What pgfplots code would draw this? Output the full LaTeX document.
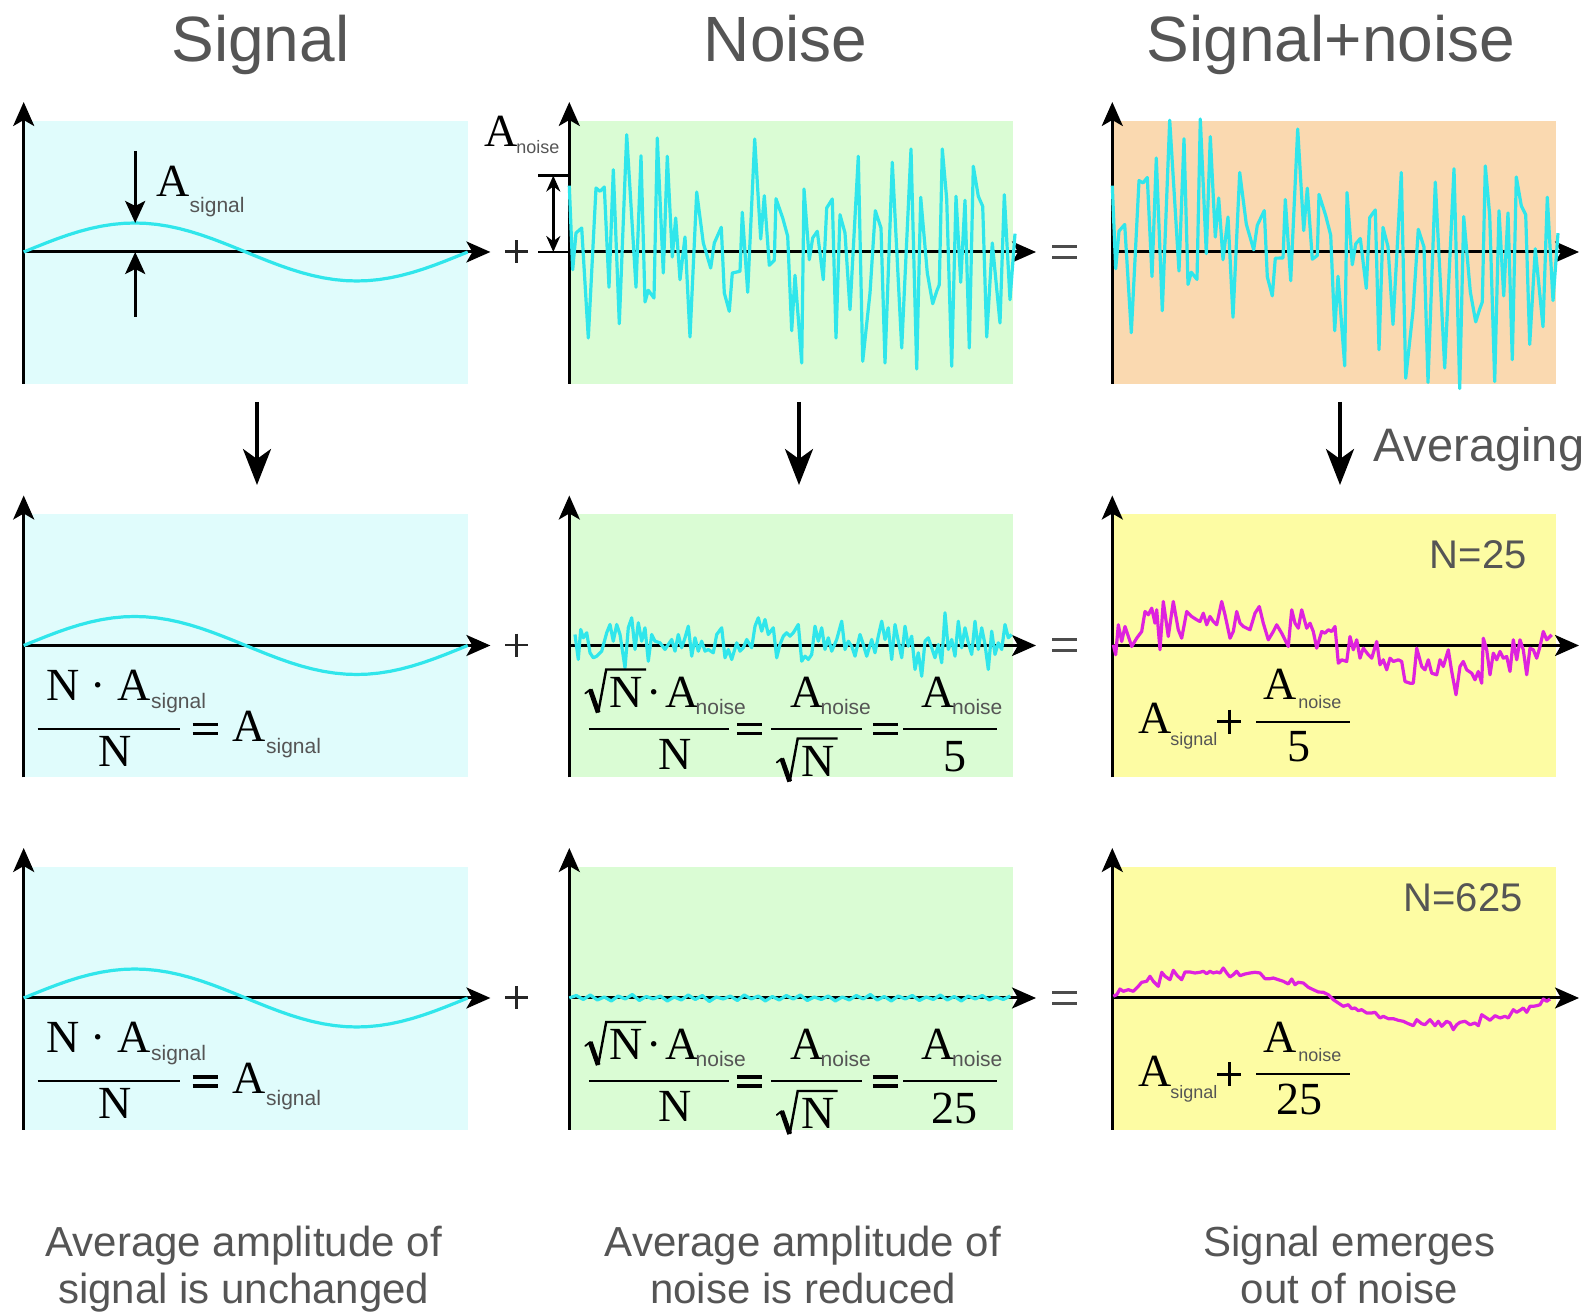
\documentclass[border=0pt]{standalone}
\usepackage{pgfplots}
\pgfplotsset{compat=1.18}
\usetikzlibrary{arrows.meta}
\usepackage{fontspec}
\setmainfont{Liberation Sans}
\newfontfamily\tms{Liberation Serif}
\definecolor{bgC}{RGB}{224,252,252}
\definecolor{bgG}{RGB}{218,252,212}
\definecolor{bgP}{RGB}{250,217,176}
\definecolor{bgY}{RGB}{253,252,163}
\definecolor{lnC}{RGB}{48,230,235}
\definecolor{lnM}{RGB}{222,34,222}
\definecolor{txG}{RGB}{85,85,85}
\tikzset{
 axl/.style={line width=1.5pt, -{Stealth[length=12pt,width=10.5pt,inset=3pt]}},
 tm/.style={font=\tms\fontsize{23}{23}\selectfont, inner sep=0pt},
 sb/.style={font=\fontsize{9}{9}\selectfont, inner sep=0pt, text=txG},
 sbl/.style={font=\fontsize{10.5}{10.5}\selectfont, inner sep=0pt, text=txG},
 fb/.style={line width=1pt},
 eqb/.style={line width=1.9pt},
 sig/.style={draw=lnC, line width=1.6pt, line join=round, no markers},
 mag/.style={draw=lnM, line width=1.6pt, line join=round, no markers},
}
\pgfplotsset{panel/.style={scale only axis, width=233.35pt, height=141pt, xmin=0, xmax=466.7, ymin=-132, ymax=150, axis lines=none, clip=false, anchor=south west}}
\newcommand{\panelbg}[1]{\fill[#1] (0,-132) rectangle (444,131); \draw[axl] (0,-132) -- (0,150); \draw[axl] (0,0) -- (466.7,0);}
\newcommand{\eqsign}[2]{\draw[eqb] ({#1-12.5},{#2+4.5}) -- ({#1+12.5},{#2+4.5}); \draw[eqb] ({#1-12.5},{#2-4.5}) -- ({#1+12.5},{#2-4.5});}
\newcommand{\rad}[3]{\draw[line width=0.9pt, line cap=round] ({#1-24},{#2+14}) -- ({#1-19},{#2+18}); \draw[line width=2.4pt] ({#1-19},{#2+18}) -- ({#1-11},{#2-5}); \draw[line width=1.2pt, line join=miter] ({#1-11},{#2-5}) -- ({#1-3},{#2+38}) -- ({#1+#3},{#2+38});}
\newcommand{\sine}{\addplot[sig] coordinates {(0,0)(11.1,4.54)(22.2,8.96)(33.3,13.17)(44.4,17.05)(55.5,20.51)(66.6,23.46)(77.7,25.84)(88.8,27.58)(99.9,28.64)(111,29)(122.1,28.64)(133.2,27.58)(144.3,25.84)(155.4,23.46)(166.5,20.51)(177.6,17.05)(188.7,13.17)(199.8,8.96)(210.9,4.54)(222,0)(233.1,-4.54)(244.2,-8.96)(255.3,-13.17)(266.4,-17.05)(277.5,-20.51)(288.6,-23.46)(299.7,-25.84)(310.8,-27.58)(321.9,-28.64)(333,-29)(344.1,-28.64)(355.2,-27.58)(366.3,-25.84)(377.4,-23.46)(388.5,-20.51)(399.6,-17.05)(410.7,-13.17)(421.8,-8.96)(432.9,-4.54)(444,0)};}
\newcommand{\sigformula}{
 \node[tm,anchor=base west] at (22,-55) {N · A};
 \node[sbl,anchor=base west] at (127,-63) {signal};
 \draw[fb] (14,-83.5) -- (156,-83.5);
 \node[tm,anchor=base] at (91,-121) {N};
 \eqsign{181.5}{-83.5}
 \node[tm,anchor=base west] at (208,-96) {A};
 \node[sbl,anchor=base west] at (242,-108) {signal};
}
\newcommand{\noiseformula}[1]{
 \rad{39.9}{-62}{37}
 \node[tm,anchor=base west] at (39.9,-62) {N};
 \node[tm,anchor=base] at (85,-62) {·};
 \node[tm,anchor=base west] at (95.8,-62) {A};
 \node[sbl,anchor=base west] at (126,-69) {noise};
 \draw[fb] (19.6,-83.5) -- (159.8,-83.5);
 \node[tm,anchor=base] at (106,-124) {N};
 \eqsign{180}{-83.5}
 \node[tm,anchor=base west] at (220.7,-62) {A};
 \node[sbl,anchor=base west] at (251,-69) {noise};
 \draw[fb] (202,-83.5) -- (293,-83.5);
 \rad{231.4}{-131}{37}
 \node[tm,anchor=base west] at (231.4,-131) {N};
 \eqsign{316}{-83.5}
 \node[tm,anchor=base west] at (352,-62) {A};
 \node[sbl,anchor=base west] at (382.5,-69) {noise};
 \draw[fb] (334,-83.5) -- (428,-83.5);
 \node[tm,anchor=base] at (385.2,-126) {#1};
}
\newcommand{\sumformula}[1]{
 \node[tm,anchor=base west] at (25.7,-88.5) {A};
 \node[sb,anchor=base west] at (57.7,-100.5) {signal};
 \draw[line width=1.5pt] (105,-76.2) -- (129,-76.2);
 \draw[line width=1.5pt] (117,-64.2) -- (117,-88.2);
 \node[tm,anchor=base west] at (150.7,-54.5) {A};
 \node[sb,anchor=base west] at (185.7,-63.5) {noise};
 \draw[fb] (143.7,-76.5) -- (237.7,-76.5);
 \node[tm,anchor=base] at (186.7,-116.5) {#1};
}
\begin{document}
\begin{tikzpicture}
\path[use as bounding box] (0,0) rectangle (796pt,656.5pt);
% ---------- row 1
\begin{axis}[panel, at={(11.85pt,464.5pt)}]
\panelbg{bgC}
\sine
\draw[line width=1.5pt, -{Stealth[length=11pt,width=10pt,inset=2.5pt]}] (111.5,101) -- (111.5,29);
\draw[line width=1.5pt, -{Stealth[length=11pt,width=10pt,inset=2.5pt]}] (111.5,-65) -- (111.5,0);
\node[tm,anchor=base west] at (132.8,55.3) {A};
\node[sbl,anchor=base west] at (165.6,39) {signal};
\end{axis}
\begin{axis}[panel, at={(284.65pt,464.5pt)}]
\panelbg{bgG}
\addplot[sig] coordinates {(0,66.3)(3.4,-17.7)(6.7,19)(12.4,24)(19,-86)(26.7,64)(30.7,60.7)(35,65)(39.7,-35.3)(44,82.3)(50,-71.7)(57.4,117.3)(66.7,-35.3)(71.7,96.3)(75.7,-50)(79,-38.3)(84.7,-46)(88,114)(94,-21)(98,95.7)(103,-5)(106.4,34)(110.7,-27.7)(115.7,15)(120.7,-85)(127.4,60)(134,9)(141.4,-16)(145,9)(152,24.7)(155,-41)(160,-59.3)(163,-21)(170.7,-19.3)(173,39.7)(178.4,-40.3)(185.4,113)(191.4,13)(195,56.3)(200,-13.3)(205,-8.3)(206.7,53.3)(213.4,34)(218.4,15.7)(222.4,-78.7)(225.7,-23.3)(232.4,-111)(234.7,63)(240,-7.7)(243.4,14)(248,20.7)(254,-27.7)(257.4,44)(263,53)(266.7,-86)(270.7,37.3)(275.7,19)(280.7,-57.7)(289,95.7)(293.4,-109.3)(300.7,-41)(306,41.3)(311.7,24)(315.7,-111)(323,89.7)(332.4,-96)(341.7,103)(347.4,-117)(351.4,54.7)(358,-21)(363.4,-51.7)(367.4,-39.3)(370,-32.7)(373,103)(377.4,53)(382.4,-114.3)(386.7,55.7)(391.4,-30.3)(395.7,51.7)(400,-96)(404,85.7)(409,55.7)(413.4,45.7)(417.4,-85)(423,9)(430.7,-71)(435,57.3)(440.7,-47.7)(445.7,18.3)};
\draw[line width=1.2pt] (-31,76.4) -- (0,76.4);
\draw[line width=1.2pt] (-31,0) -- (0,0);
\draw[line width=1.2pt, {Stealth[length=8pt,width=7pt]}-{Stealth[length=8pt,width=7pt]}] (-16,76.4) -- (-16,0);
\node[tm,anchor=base west] at (-85.3,105) {A};
\node[sb,anchor=base west] at (-53.3,98) {noise};
\end{axis}
\begin{axis}[panel, at={(556.15pt,464.5pt)}]
\panelbg{bgP}
\addplot[sig] coordinates {(0,66.3)(3.4,-16.7)(6.7,20.9)(12.4,27.5)(19,-80.7)(26.7,71.4)(30.7,69.1)(35,74.5)(39.7,-24.6)(44,94)(50,-58.7)(57.4,131.8)(66.7,-19.1)(71.7,113.3)(75.7,-32.4)(79,-20.3)(84.7,-27.4)(88,133)(94,-1.6)(98,115.4)(103,14.9)(106.4,54)(110.7,-7.7)(115.7,35)(120.7,-65.2)(127.4,79.5)(134,27.9)(141.4,2.2)(145,26.7)(152,41.4)(155,-24.8)(160,-43.9)(163,-6.2)(170.7,-6)(173,52.5)(178.4,-28.7)(185.4,122.9)(191.4,21.4)(195,63.8)(200,-7.2)(205,-3.5)(206.7,57.6)(213.4,36.4)(218.4,16.7)(222.4,-78.8)(225.7,-24.3)(232.4,-113.9)(234.7,59.4)(240,-12.7)(243.4,8)(248,13.5)(254,-36.4)(257.4,34.4)(263,42)(266.7,-97.8)(270.7,24.6)(275.7,5.2)(280.7,-72.5)(289,79.5)(293.4,-126.2)(300.7,-58.9)(306,22.7)(311.7,4.9)(315.7,-130.4)(323,69.9)(332.4,-116)(341.7,83.2)(347.4,-136.6)(351.4,35.4)(358,-39.8)(363.4,-69.9)(367.4,-57)(370,-50)(373,86.1)(377.4,36.8)(382.4,-129.6)(386.7,41.2)(391.4,-43.9)(395.7,39.1)(400,-107.7)(404,75)(409,46.2)(413.4,37.3)(417.4,-92.4)(423,3.2)(430.7,-74.7)(435,54.8)(440.7,-48.6)(445.7,18.8)};
\end{axis}
% ---------- row 2
\begin{axis}[panel, at={(11.85pt,267.75pt)}]
\panelbg{bgC}
\sine
\sigformula
\end{axis}
\begin{axis}[panel, at={(284.65pt,267.75pt)}]
\panelbg{bgG}
\addplot[sig] coordinates {(5.7,11)(9,-14)(11.4,16)(14,7.7)(17.4,12.7)(20.7,-7.3)(24,-12.3)(27.4,-10.7)(32.4,-5.7)(37.4,12.7)(40.7,21)(44,4.3)(47.4,21)(50.7,11)(55.7,-22.3)(59,17.7)(62.4,27.7)(65.7,-4)(69,22.7)(72.4,4.3)(75.7,17.7)(79,-15.7)(82.4,11)(85.7,4.3)(90.7,2.7)(95.7,-4)(99,1)(102.4,6)(105.7,-5.7)(109,11)(112.4,-2.3)(115.7,7.7)(119,19.3)(122.4,-10.7)(125.7,7.7)(129,-5.7)(132.4,4.3)(135.7,-5.7)(139,-4)(144,-7.3)(147.4,11)(152.4,17.7)(155.7,-12.3)(159,-4)(162.4,-14)(167.4,2.7)(170.7,-5.7)(174,-2.3)(177.4,6)(182.4,-2.3)(185.7,19.3)(189,27.7)(192.4,14.3)(195.7,26)(199,11)(204,17.7)(207.4,-12.3)(210.7,1)(214,9.3)(217.4,12.7)(220.7,9.3)(224,12.7)(229,21)(232.4,-15.7)(235.7,-10.7)(239,-14)(242.4,-9)(245.7,19.3)(249,4.3)(252.4,17.7)(255.7,-4)(259,7.7)(262.4,-5.7)(267.4,6)(272.4,24.3)(275.7,-4)(279,4.3)(282.4,-0.7)(285.7,-10.7)(290.7,11)(294,1)(297.4,-10.7)(302.4,6)(305.7,-7.3)(309,9.3)(312.4,24.3)(315.7,6)(319,17.7)(322.4,-14)(325.7,21)(329,4.3)(332.4,-12.3)(335.7,19.3)(339,-0.7)(342.4,9.3)(345.7,-24)(349,-7.3)(352.4,-30.7)(355.7,4.3)(359,7.7)(362.4,-2.3)(365.7,-12.3)(369,1)(372.4,-17.3)(375.7,32.7)(379,-4)(382.4,6)(385.7,-10.7)(389,24.3)(392.4,-2.3)(395.7,17.7)(399,2.7)(402.4,-9)(405.7,24.3)(409,-4)(412.4,17.7)(415.7,1)(419,-24)(422.4,14.3)(425.7,-9)(429,2.7)(432.4,-4)(435.7,21)(439,7.7)(442.4,11)};
\noiseformula{5}
\end{axis}
\begin{axis}[panel, at={(556.15pt,267.75pt)}]
\panelbg{bgY}
\addplot[mag] coordinates {(1,0.7)(3.4,-9.3)(6,20.7)(9.4,4)(12.7,19)(19.4,-1)(24.4,7.3)(29.4,14)(32.7,34)(36,30.7)(39.4,37.3)(42.7,22.3)(44.4,35.7)(47.7,-4.3)(51,44)(56,9)(61,44)(66,15.7)(69.4,7.3)(74.4,34)(79.4,29)(84.4,25.7)(87.7,24)(91,32.3)(94.4,20.7)(97.7,29)(101,24)(104.4,20.7)(109.4,44)(112.7,30.7)(117.7,7.3)(121,14)(124.4,34)(127.7,22.3)(131,19)(137.7,15.7)(142.7,32.3)(147,39)(151,22.3)(156,5.7)(161,14)(164.4,20.7)(169.4,12.3)(176,-1)(179.4,35.7)(182.7,22.3)(186,17.3)(189.4,35.7)(194.4,17.3)(197.7,22.3)(201,14)(204.4,-2.7)(209.4,14)(212.7,12.3)(216,15.7)(219.4,14)(222.7,19)(226,-17.7)(229.4,-14.3)(234.4,-16)(237.7,9)(241,-4.3)(244.4,5.7)(247.7,-12.7)(251,-2.7)(256,-9.3)(259.4,-12.7)(264.4,4)(267.7,-19.3)(271,-14.3)(274.4,-24.3)(277.7,-12.7)(281,-16)(286,-14.3)(289.4,-16)(292.7,-36)(297.7,-37.7)(301,-37.7)(304.4,-2.7)(309.4,-21)(312.7,-24.3)(316,-14.3)(319.4,-27.7)(324.4,-29.3)(327.7,-14.3)(331,-21)(336,-4.3)(339.4,-26)(343.7,-49.3)(347.7,-21)(351,-16)(354.4,-24.3)(359.4,-27.7)(362.7,-34.3)(366,-26)(369.4,-37.7)(371,7.3)(374.4,-4.3)(377.7,-29.3)(381,-7.7)(384.4,-14.3)(387.7,-6)(391,-12.7)(394.4,-11)(397.7,-26)(401,5.7)(404.4,-14.3)(407.7,5.7)(411,-4.3)(414.4,-29.3)(417.7,-2.7)(421,-4.3)(424.4,-12.7)(427.7,-1)(431,14)(434.4,5.7)(437.7,9)(439.4,10.7)};
\sumformula{5}
\end{axis}
% ---------- row 3
\begin{axis}[panel, at={(11.85pt,91.5pt)}]
\panelbg{bgC}
\sine
\sigformula
\end{axis}
\begin{axis}[panel, at={(284.65pt,91.5pt)}]
\panelbg{bgG}
\addplot[sig] coordinates {(0,0)(7,2.5)(14,-1.5)(21,3)(28,-2)(35,1)(42,-3)(49,2)(56,-1)(63,3.5)(70,-2.5)(77,1.5)(84,-1)(91,2)(98,-3)(105,1)(112,-2)(119,3)(126,-1.5)(133,2.5)(140,-3.5)(147,1)(154,-1)(161,2)(168,-2.5)(175,3)(182,-1)(189,2)(196,-3)(203,1.5)(210,-2)(217,2.5)(224,-1)(231,3)(238,-2.5)(245,1)(252,-1.5)(259,2)(266,-3)(273,1)(280,-2)(287,2.5)(294,-1)(301,3.5)(308,-2)(315,1.5)(322,-3)(329,2)(336,-1)(343,2.5)(350,-2.5)(357,1)(364,-1.5)(371,3)(378,-2)(385,1.5)(392,-3)(399,2)(406,-1)(413,2.5)(420,-2)(427,1)(434,-1.5)(441,2)};
\noiseformula{25}
\end{axis}
\begin{axis}[panel, at={(556.15pt,91.5pt)}]
\panelbg{bgY}
\addplot[mag] coordinates {(1,1.7)(4.4,3.3)(7.7,9)(11,6.7)(16,8.3)(21,6.7)(26,11.7)(29.4,15.7)(34.4,16.7)(37.7,21.7)(41,16.7)(46,11.7)(49.4,25.7)(52.7,21.7)(57.7,18.3)(61,27.7)(65,22.3)(69.4,18.3)(72.7,26)(77.7,26)(82.7,25)(87.7,25.7)(91,26.7)(94.4,24.3)(97.7,26.7)(101,25)(104.4,26)(107.7,25)(111,30)(114.4,25)(117.7,21)(121,23.3)(124.4,26.7)(127.7,22.3)(132.7,24)(137.7,25)(142.7,25.7)(147.7,25)(152.7,19.3)(157.7,19.3)(161,20)(166,18.3)(171,16.7)(176,14)(179.4,19)(182.7,13.3)(186,15.7)(191,15)(196,10.7)(201,8.3)(206,6)(211,5.7)(216,3.3)(221,-1.7)(226,-5)(231,-8.3)(236,-6.7)(239.4,-10.7)(242.7,-10)(246,-12.7)(249.4,-11.7)(254.4,-15)(259.4,-15)(262.7,-14.3)(267.7,-20)(271,-18.3)(276,-20.7)(281,-20.7)(286,-22.3)(291,-23.3)(296,-25.7)(301,-27.7)(304.4,-21.7)(309.4,-25.7)(312.7,-26.7)(317.7,-21.7)(322.7,-27.7)(326,-23.3)(329.4,-28.3)(334.4,-23.3)(337.7,-25)(341,-31.7)(344.4,-26.7)(347.7,-24.3)(352.7,-23.3)(357.7,-26.7)(362.7,-25)(366,-27.7)(369.4,-16.7)(374.4,-20)(377.7,-22.3)(382.7,-17.7)(387.7,-20)(392.7,-18.3)(396,-20)(401,-11.7)(404.4,-14.3)(407.7,-12.3)(411,-10)(414.4,-14.3)(417.7,-8.3)(421,-8.3)(424.4,-7.7)(427.7,-6.7)(431,-1)(434.4,-3.3)(437.7,-1)};
\sumformula{25}
\end{axis}
% ---------- free annotations (pixel coordinates)
\begin{scope}[x=0.5pt,y=-0.5pt,yshift=656.5pt]
\foreach \cx/\tt in {260.4/Signal, 785.8/Noise, 1331/Signal+noise}
  \node[anchor=base, inner sep=0pt, text=txG, font=\fontsize{32}{32}\selectfont] at (\cx,62) {\tt};
\foreach \cx in {257,799,1340}
  \draw[line width=1.75pt, -{Stealth[length=18pt,width=14pt,inset=5pt]}] (\cx,402) -- (\cx,485);
\node[anchor=base west, inner sep=0pt, text=txG, font=\fontsize{23.5}{23.5}\selectfont] at (1373,461.7) {Averaging};
\node[anchor=base east, inner sep=0pt, text=txG, font=\fontsize{20}{20}\selectfont] at (1527,569) {N=25};
\node[anchor=base east, inner sep=0pt, text=txG, font=\fontsize{20}{20}\selectfont] at (1523,912) {N=625};
\foreach \yy in {251.7,645.2,997.7}{
  \draw[line width=1.3pt, draw=black!85] (505,\yy) -- (528,\yy);
  \draw[line width=1.3pt, draw=black!85] (516.5,\yy-11.5) -- (516.5,\yy+11.5);
  \draw[line width=1.4pt, draw=black!70] (1052,\yy-5.5) -- (1077,\yy-5.5);
  \draw[line width=1.4pt, draw=black!70] (1052,\yy+5.5) -- (1077,\yy+5.5);
}
\foreach \cx/\la/\lb in {243.7/Average amplitude of/signal is unchanged, 803/Average amplitude of/noise is reduced, 1349.4/Signal emerges/out of noise}{
  \node[anchor=base, inner sep=0pt, text=txG, font=\fontsize{21}{21}\selectfont] at (\cx,1257) {\la};
  \node[anchor=base, inner sep=0pt, text=txG, font=\fontsize{21}{21}\selectfont] at (\cx,1304) {\lb};
}
\end{scope}
\end{tikzpicture}
\end{document}
